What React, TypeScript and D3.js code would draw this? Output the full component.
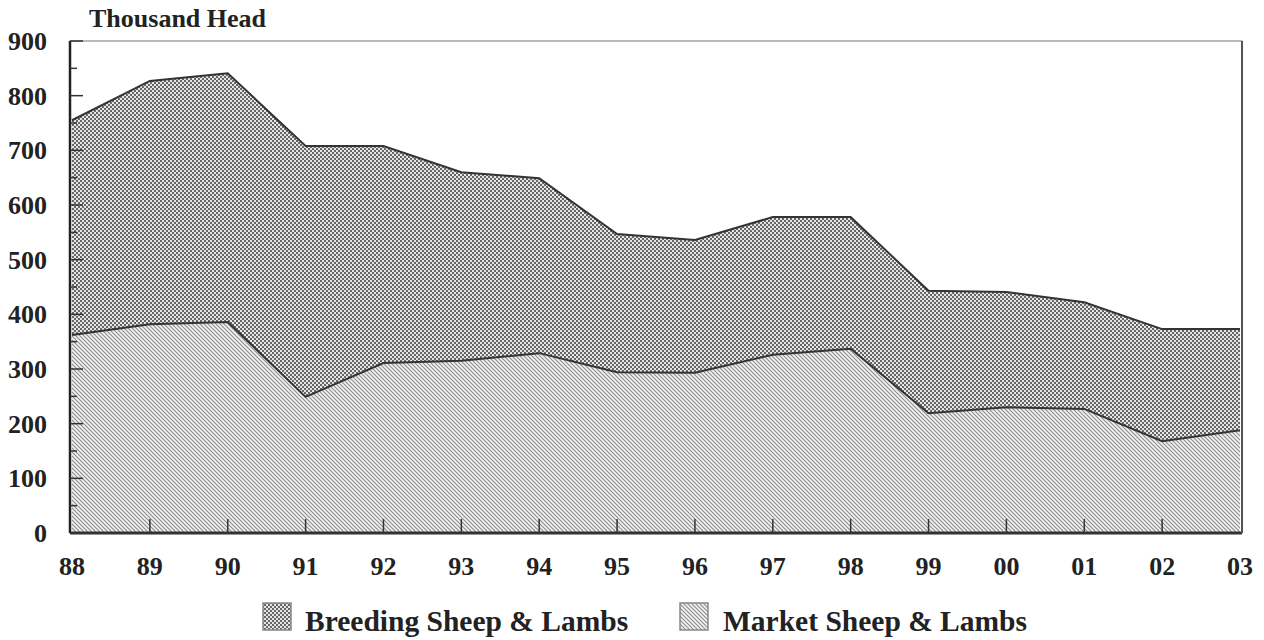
import React from "react";
import * as d3 from "d3";

const years = ["88", "89", "90", "91", "92", "93", "94", "95", "96", "97", "98", "99", "00", "01", "02", "03"];
// Market sheep & lambs (thousand head)
const market = [362, 382, 386, 249, 311, 315, 329, 294, 293, 326, 337, 219, 230, 227, 168, 188];
// Breeding sheep & lambs (thousand head), stacked on top of market
const breeding = [393, 445, 455, 459, 397, 345, 320, 253, 243, 252, 241, 224, 211, 195, 205, 185];
const yTicks = [0, 100, 200, 300, 400, 500, 600, 700, 800, 900];

const W = 1264;
const H = 640;
const left = 70;
const right = 1242;
const top = 41;
const bottom = 533;

export default function App() {
  const x = d3.scaleLinear().domain([0, years.length - 1]).range([left + 2, right - 2]);
  const y = d3.scaleLinear().domain([0, 900]).range([bottom, top]);
  const totals = market.map((m, i) => m + breeding[i]);

  const breedingArea = d3
    .area<number>()
    .x((_, i) => x(i))
    .y0((_, i) => y(market[i]))
    .y1((d) => y(d))(totals) as string;
  const marketArea = d3
    .area<number>()
    .x((_, i) => x(i))
    .y0(y(0))
    .y1((d) => y(d))(market) as string;
  const line = d3
    .line<number>()
    .x((_, i) => x(i))
    .y((d) => y(d));

  const minorTicks = d3.range(50, 900, 100);
  const font = "'Liberation Serif', 'Times New Roman', serif";

  return (
    <svg width={W} height={H} style={{ position: "absolute", left: 0, top: 0, background: "#fff" }}>
      <defs>
        <pattern id="checker" patternUnits="userSpaceOnUse" width={4} height={4}>
          <rect width={4} height={4} fill="#e6e6e6" />
          <rect x={0} y={0} width={2} height={2} fill="#666" />
          <rect x={2} y={2} width={2} height={2} fill="#666" />
        </pattern>
        <pattern id="hatch" patternUnits="userSpaceOnUse" width={4} height={4}>
          <rect width={4} height={4} fill="#f3f3f3" />
          <path d="M-1,-1 L5,5 M-1,3 L1,5 M3,-1 L5,1" stroke="#8c8c8c" strokeWidth={1.1} />
        </pattern>
      </defs>

      <text x={89} y={27} fontFamily={font} fontWeight="bold" fontSize={26} fill="#222">
        Thousand Head
      </text>

      {/* plot frame */}
      <rect x={left} y={top} width={right - left} height={bottom - top} fill="#fff" stroke="#777" strokeWidth={1} />

      <path d={breedingArea} fill="url(#checker)" />
      <path d={marketArea} fill="url(#hatch)" />
      <path d={line(totals) as string} fill="none" stroke="#333" strokeWidth={2} />
      <path d={line(market) as string} fill="none" stroke="#333" strokeWidth={2} />

      {/* axes */}
      <line x1={left} x2={left} y1={top} y2={bottom} stroke="#222" strokeWidth={2.5} />
      <line x1={left} x2={right} y1={bottom} y2={bottom} stroke="#333" strokeWidth={3} />
      <line x1={right} x2={right} y1={top} y2={bottom} stroke="#555" strokeWidth={2} />

      {yTicks.map((t) => (
        <g key={t}>
          <line x1={left} x2={left + 13} y1={y(t)} y2={y(t)} stroke="#333" strokeWidth={1.5} />
          <text
            x={47}
            y={y(t) + 9}
            textAnchor="end"
            fontFamily={font}
            fontWeight="bold"
            fontSize={26}
            fill="#222"
          >
            {t}
          </text>
        </g>
      ))}
      {minorTicks.map((t) => (
        <line key={t} x1={left} x2={left + 7} y1={y(t)} y2={y(t)} stroke="#333" strokeWidth={1.5} />
      ))}

      {years.map((yr, i) => (
        <g key={yr + i}>
          {i > 0 && i < years.length - 1 && (
            <line x1={x(i)} x2={x(i)} y1={bottom} y2={bottom - 14} stroke="#333" strokeWidth={1.5} />
          )}
          <text
            x={x(i)}
            y={575}
            textAnchor="middle"
            fontFamily={font}
            fontWeight="bold"
            fontSize={26}
            fill="#222"
          >
            {yr}
          </text>
        </g>
      ))}

      {/* legend */}
      <rect x={263} y={603} width={28} height={27} fill="url(#checker)" stroke="#888" strokeWidth={1.5} />
      <text x={305} y={631} fontFamily={font} fontWeight="bold" fontSize={29.5} fill="#222">
        Breeding Sheep &amp; Lambs
      </text>
      <rect x={680} y={603} width={28} height={27} fill="url(#hatch)" stroke="#888" strokeWidth={1.5} />
      <text x={723} y={631} fontFamily={font} fontWeight="bold" fontSize={29.5} fill="#222">
        Market Sheep &amp; Lambs
      </text>
    </svg>
  );
}
